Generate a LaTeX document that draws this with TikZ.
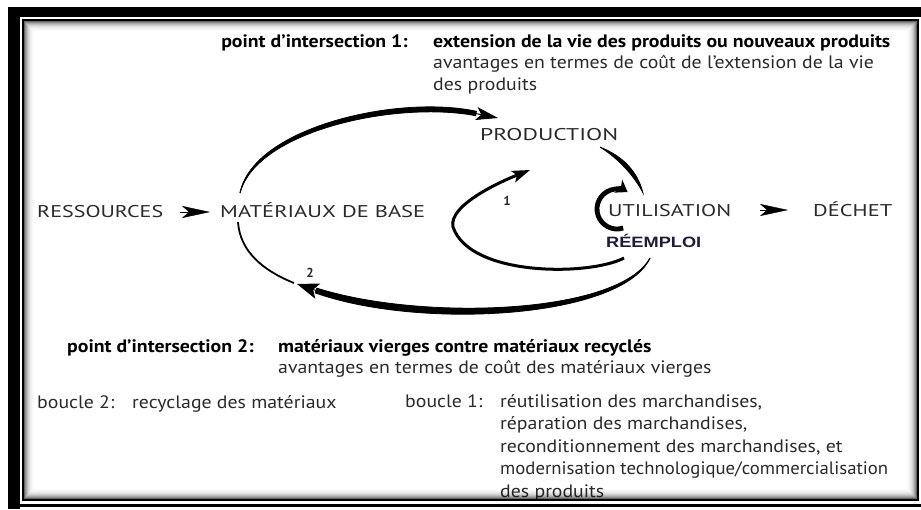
\documentclass[tikz,border=0pt]{standalone}
\usepackage{fontspec}
\setmainfont{PT Sans}
\newfontfamily\labelfont{Liberation Sans}
\usetikzlibrary{arrows.meta,calc}
\definecolor{ink}{HTML}{2A2A2A}
\definecolor{navy}{HTML}{1C1C38}
\newcommand\fitto[2]{\resizebox{#1}{\height}{#2}}
\newcommand\hs[1]{\scalebox{1.10}[1]{#1}}
\begin{document}
\begin{tikzpicture}[x=1pt,y=-1pt,
  txt/.style={inner sep=0pt, anchor=base west, text=ink, font=\fontsize{18}{21}\selectfont},
  btxt/.style={txt, text=black, font=\fontsize{18}{21}\selectfont\bfseries},
  captxt/.style={txt, font=\fontsize{17}{20}\selectfont},
  num/.style={inner sep=0pt, text=ink, font=\fontsize{13}{15}\selectfont\bfseries},
  dart/.style={line width=0.4pt, -{Stealth[length=28pt,width=12pt,inset=7pt]}},
  loopline/.style={line width=1pt},
]
\useasboundingbox (0,0) rectangle (921,509);
\fill[white] (0,0) rectangle (921,509);

% --- headings and notes -------------------------------------------------
\node[btxt, anchor=base east] (pi1) at (408,47) {\hs{point d'intersection 1:}};
\node[btxt] (ext) at (433,47) {\hs{extension de la vie des produits ou nouveaux produits}};
\node[txt] (av1) at (433,68) {\hs{avantages en termes de coût de l'extension de la vie}};
\node[txt] (dp1) at (433,90) {\hs{des produits}};

% --- the cycle ----------------------------------------------------------
\node[captxt] (prod) at (480,140) {\fitto{138pt}{PRODUCTION}};
\node[captxt] (res)  at (37,217)  {\fitto{126pt}{RESSOURCES}};
\node[captxt] (mat)  at (220,217) {\fitto{205pt}{MATÉRIAUX DE BASE}};
\node[captxt] (util) at (608,216) {\fitto{123pt}{UTILISATION}};
\node[captxt] (dech) at (813,216) {\fitto{79pt}{DÉCHET}};
\node[inner sep=0pt, anchor=base west, text=navy,
      font=\labelfont\bfseries\fontsize{15}{18}\selectfont] (reemp) at (606,247) {\fitto{95pt}{RÉEMPLOI}};
\node[num] (n1) at (507,201) {1};
\node[num] (n2) at (310,273) {2};

% straight flow
\draw[dart] ($(res.base east)+(17,-5)$) -- ($(mat.base west)+(-10,-5)$);
\draw[dart] ($(util.base east)+(29,-6)$) -- ($(dech.base west)+(-25,-6)$);

% materials -> production (tapered)
\coordinate (a1s) at ($(mat.base west)+(20,-24)$);
\coordinate (a1t) at ($(prod.base west)+(18,-22)$);
\coordinate (a1e) at ($(a1t)+(-22,-4.5)$);
\filldraw[line width=0.8pt] (a1s) .. controls +(13,-66) and +(-78,-17) .. ($(a1e)+(0.4,-2.2)$)
  -- ($(a1e)+(-0.4,2.2)$) .. controls +(-78,-15) and +(17,-63) .. (a1s) -- cycle;
\draw[loopline, -{Stealth[length=22pt,width=13pt,inset=5pt]}]
  (a1s) .. controls +(15,-65) and +(-98,-20) .. (a1t);

% production -> use
\coordinate (pus) at ($(prod.base west)+(120,7)$);
\coordinate (pue) at ($(util.base west)+(35,-23)$);
\filldraw[line width=0.7pt] (pus) .. controls +(23,9) and +(-5,-21) .. (pue)
  .. controls +(-9,-17) and +(20,13) .. (pus) -- cycle;

% re-use loop around U
\coordinate (cc) at ($(util.base west)+(9,-7)$);
\draw[line width=4.8pt, -{Stealth[length=11pt,width=15pt,inset=3pt]}]
  (cc) ++(72:20) arc[start angle=72, end angle=302, radius=20];

% loop 1: use -> production
\coordinate (l1s) at ($(reemp.base west)+(18,11)$);
\coordinate (l1m) at ($(util.base west)+(-155,11)$);
\coordinate (l1t) at ($(prod.base west)+(50,30)$);
\draw[line width=3pt, -{Stealth[length=18pt,width=12pt,inset=4pt]}]
  (l1s) .. controls +(-34,18) and +(17,50) .. (l1m)
  .. controls +(-5,-22) and +(-28,11) .. (l1t);

% loop 2: use -> materials (tapered)
\coordinate (l2s) at ($(reemp.base west)+(44,11)$);
\coordinate (l2t) at ($(mat.base west)+(77,67)$);
\coordinate (l2e) at ($(l2t)+(19,6.5)$);
\filldraw[line width=0.8pt] (l2s) .. controls +(-32,57) and +(104,33) .. ($(l2e)+(0.8,-2.4)$)
  -- ($(l2e)+(-0.8,2.4)$) .. controls +(104,37) and +(-28,61) .. (l2s) -- cycle;
\draw[loopline, -{Stealth[length=22pt,width=16pt,inset=5pt]}]
  (l2s) .. controls +(-30,60) and +(123,42) .. (l2t);
\coordinate (l2r) at ($(mat.base west)+(18,5)$);
\draw[line width=1.8pt] ($(l2t)+(-3,-1)$) .. controls +(-30,-12) and +(2,30) .. (l2r);

% --- lower notes --------------------------------------------------------
\node[btxt] (pi2) at (67,352) {\hs{point d'intersection 2:}};
\node[btxt] (mv) at (278,352) {\hs{matériaux vierges contre matériaux recyclés}};
\node[txt] (av2) at (278,373) {\hs{avantages en termes de coût des matériaux vierges}};
\node[txt] (b2) at (37,408) {\hs{boucle 2:}};
\node[txt] (rec) at (132,408) {\hs{recyclage des matériaux}};
\node[txt] (b1) at (405,407) {\hs{boucle 1:}};
\node[txt] (r1) at (500,407) {\hs{réutilisation des marchandises,}};
\node[txt] (r2) at (500,429.5) {\hs{réparation des marchandises,}};
\node[txt] (r3) at (500,452) {\hs{reconditionnement des marchandises, et}};
\node[txt] (r4) at (500,474.5) {\fitto{388pt}{modernisation technologique/commercialisation}};
\node[txt] (r5) at (500,497) {\hs{des produits}};

% --- frame --------------------------------------------------------------
\fill[black] (8,7) rectangle (921,17);
\fill[black] (8,7) rectangle (20,509);
\fill[black] (20,503.5) rectangle (921,506.5);
\draw[line width=2pt] (23,20) rectangle (918,500);
\foreach \i/\o in {1/0.6,2/0.45,3/0.34,4/0.25,5/0.18,6/0.12,7/0.08,8/0.05,9/0.03,10/0.015}
  \draw[black, draw opacity=\o, line width=1pt]
    (24+\i-0.5, 21+\i-0.5) rectangle (917-\i+0.5, 499-\i+0.5);
\end{tikzpicture}
\end{document}
